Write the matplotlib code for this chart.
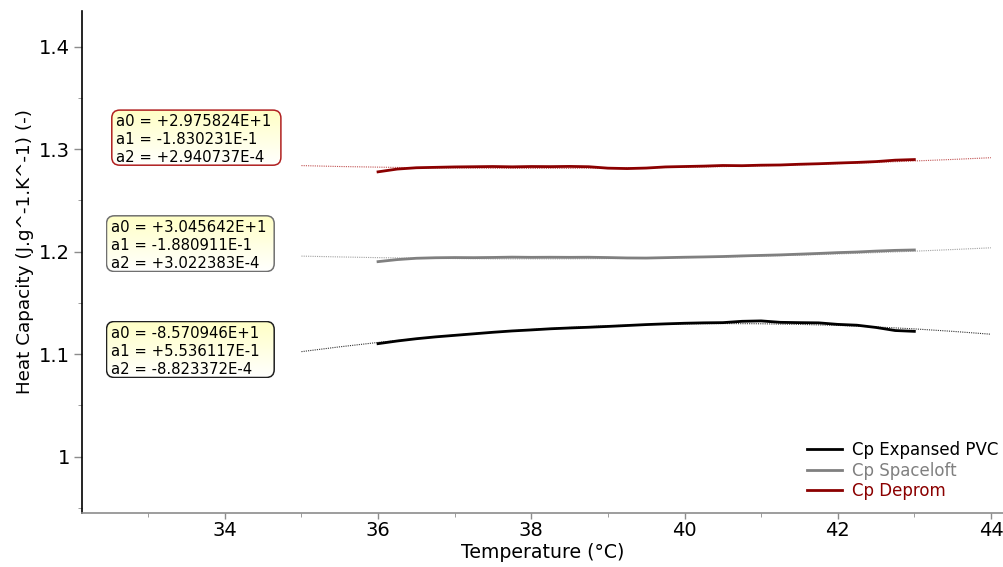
import numpy as np
import matplotlib
matplotlib.use("Agg")
import matplotlib.pyplot as plt
from matplotlib.patches import FancyBboxPatch
from matplotlib.colors import LinearSegmentedColormap
from matplotlib.lines import Line2D

# ---------------- data ----------------
temp_meas = [36.0, 36.25, 36.5, 36.75, 37.0, 37.25, 37.5, 37.75, 38.0, 38.25,
             38.5, 38.75, 39.0, 39.25, 39.5, 39.75, 40.0, 40.25, 40.5, 40.75,
             41.0, 41.25, 41.5, 41.75, 42.0, 42.25, 42.5, 42.75, 43.0]

cp_pvc = [1.1102, 1.1128, 1.1150, 1.1168, 1.1183, 1.1198, 1.1213, 1.1226, 1.1236, 1.1247,
          1.1255, 1.1262, 1.1270, 1.1279, 1.1288, 1.1295, 1.1301, 1.1305, 1.1307, 1.1320,
          1.1324, 1.1310, 1.1307, 1.1305, 1.1290, 1.1282, 1.1260, 1.1230, 1.1222]

cp_spaceloft = [1.1902, 1.1922, 1.1935, 1.1940, 1.1942, 1.1941, 1.1943, 1.1946, 1.1944, 1.1945,
                1.1944, 1.1945, 1.1942, 1.1938, 1.1937, 1.1941, 1.1945, 1.1948, 1.1952, 1.1958,
                1.1963, 1.1968, 1.1975, 1.1982, 1.1990, 1.1996, 1.2005, 1.2012, 1.2016]

cp_deprom = [1.2778, 1.2805, 1.2818, 1.2822, 1.2826, 1.2828, 1.2830, 1.2827, 1.2830, 1.2829,
             1.2831, 1.2828, 1.2814, 1.2810, 1.2815, 1.2826, 1.2830, 1.2834, 1.2840, 1.2838,
             1.2843, 1.2845, 1.2852, 1.2857, 1.2864, 1.2870, 1.2878, 1.2892, 1.2898]

temp_fit = [35.0, 35.5, 36.0, 36.5, 37.0, 37.5, 38.0, 38.5, 39.0, 39.5,
            40.0, 40.5, 41.0, 41.5, 42.0, 42.5, 43.0, 43.5, 44.0]

fit_pvc = [1.1024, 1.1071, 1.1114, 1.1151, 1.1186, 1.1214, 1.1240, 1.1260, 1.1276, 1.1288,
           1.1295, 1.1298, 1.1296, 1.1290, 1.1280, 1.1265, 1.1246, 1.1222, 1.1194]

fit_spaceloft = [1.1956, 1.1948, 1.1941, 1.1936, 1.1932, 1.1929, 1.1929, 1.1929, 1.1932, 1.1935,
                 1.1941, 1.1947, 1.1956, 1.1965, 1.1977, 1.1990, 1.2004, 1.2020, 1.2037]

fit_deprom = [1.2839, 1.2830, 1.2824, 1.2818, 1.2815, 1.2812, 1.2811, 1.2812, 1.2814, 1.2818,
              1.2823, 1.2829, 1.2837, 1.2847, 1.2858, 1.2870, 1.2884, 1.2899, 1.2916]

series_labels = ["Cp Expansed PVC", "Cp Spaceloft", "Cp Deprom"]

coef_deprom = ["a0 = +2.975824E+1", "a1 = -1.830231E-1", "a2 = +2.940737E-4"]
coef_spaceloft = ["a0 = +3.045642E+1", "a1 = -1.880911E-1", "a2 = +3.022383E-4"]
coef_pvc = ["a0 = -8.570946E+1", "a1 = +5.536117E-1", "a2 = -8.823372E-4"]

x_major = [34, 36, 38, 40, 42, 44]
x_minor = [33, 35, 37, 39, 41, 43]
y_major = [1.0, 1.1, 1.2, 1.3, 1.4]
y_major_labels = ["1", "1.1", "1.2", "1.3", "1.4"]
y_minor = [0.95, 1.05, 1.15, 1.25, 1.35]

# ---------------- styling ----------------
W, H = 1004, 567
col_pvc = "#000000"
col_space = "#808080"
col_dep = "#8b0000"

plt.rcParams["font.family"] = ["DejaVu Sans"]

fig = plt.figure(figsize=(W / 100, H / 100), dpi=100)
ax = fig.add_axes([82.3 / W, 1 - 513 / H, (W - 82.3) / W, (513 - 10.7) / H])

# fitted curves (dotted)
ax.plot(temp_fit, fit_pvc, color="#333333", lw=0.8, ls=(0, (1, 1)), zorder=2)
ax.plot(temp_fit, fit_spaceloft, color="#a0a0a0", lw=0.8, ls=(0, (1, 1)), zorder=2)
ax.plot(temp_fit, fit_deprom, color="#c05050", lw=0.8, ls=(0, (1, 1)), zorder=2)

# measured curves
ax.plot(temp_meas, cp_pvc, color=col_pvc, lw=2.0, zorder=3)
ax.plot(temp_meas, cp_spaceloft, color=col_space, lw=2.0, zorder=3)
ax.plot(temp_meas, cp_deprom, color=col_dep, lw=2.0, zorder=3)

ax.set_xlim(32.14, 44.17)
ax.set_ylim(0.945, 1.435)

ax.set_xticks(x_major)
ax.set_xticks(x_minor, minor=True)
ax.set_yticks(y_major)
ax.set_yticklabels(y_major_labels)
ax.set_yticks(y_minor, minor=True)

ax.tick_params(axis="both", which="major", labelsize=14, color="#8c8c8c", width=1)
ax.tick_params(axis="y", which="major", length=6, pad=3)
ax.tick_params(axis="y", which="minor", length=3, color="#8c8c8c")
ax.tick_params(axis="x", which="major", length=4, pad=2)
ax.tick_params(axis="x", which="minor", length=3, color="#8c8c8c")

for s in ["top", "right"]:
    ax.spines[s].set_visible(False)
ax.spines["left"].set_color("#000000")
ax.spines["left"].set_linewidth(1.2)
ax.spines["bottom"].set_color("#8c8c8c")
ax.spines["bottom"].set_linewidth(1.2)

ax.set_xlabel("Temperature (°C)", fontsize=13.6, labelpad=2)
ax.set_ylabel("Heat Capacity (J.g^-1.K^-1) (-)", fontsize=13.2)
ax.yaxis.set_label_coords((34 - 82.3) / (W - 82.3), 0.52)

# legend
handles = [Line2D([], [], color=c, lw=2.0) for c in (col_pvc, col_space, col_dep)]
leg = ax.legend(handles, series_labels, loc="lower right",
                bbox_to_anchor=((998 - 82.3) / (W - 82.3), (513 - 500) / (513 - 10.7)),
                frameon=False, fontsize=12, handlelength=2.15, handletextpad=0.55,
                labelspacing=0.15, borderpad=0, borderaxespad=0)
for t, c in zip(leg.get_texts(), (col_pvc, col_space, col_dep)):
    t.set_color(c)

# coefficient boxes
cmap = LinearSegmentedColormap.from_list("yl", ["#ffffc4", "#ffffff"])


def add_box(x0, y0, x1, y1, ec, lines):
    w = x1 - x0
    h = y1 - y0
    bax = fig.add_axes([x0 / W, 1 - y1 / H, w / W, h / H])
    bax.set_xlim(0, w)
    bax.set_ylim(0, h)
    bax.axis("off")
    grad = np.linspace(0, 1, 64).reshape(-1, 1)
    im = bax.imshow(grad, extent=[0, w, 0, h], origin="upper", cmap=cmap,
                    aspect="auto", interpolation="bilinear")
    patch = FancyBboxPatch((0.8, 0.8), w - 1.6, h - 1.6,
                           boxstyle="round,pad=0,rounding_size=8",
                           fc="none", ec=ec, lw=1.1, zorder=3)
    bax.add_patch(patch)
    im.set_clip_path(patch)
    bax.text(5.5, h / 2 - 1.5, "\n".join(lines), ha="left", va="center",
             fontsize=10.7, linespacing=1.25, color="#000000", zorder=4)


add_box(111, 109.3, 281.7, 166, "#b02020", coef_deprom)
add_box(105.7, 215, 275, 272.3, "#707070", coef_spaceloft)
add_box(105.7, 320.7, 275, 378.3, "#202020", coef_pvc)

fig.savefig("out.png", dpi=100)
